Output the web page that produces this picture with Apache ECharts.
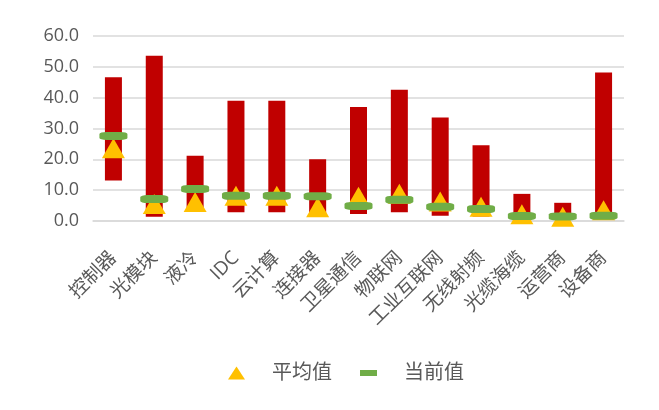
<!DOCTYPE html>
<html>
<head>
<meta charset="utf-8">
<script src="https://cdn.jsdelivr.net/npm/echarts@6/dist/echarts.min.js"></script>
<style>
html,body{margin:0;padding:0;background:#fff;}
#main{width:659px;height:410px;}
</style>
</head>
<body>
<div id="main"></div>
<script>
var categories = ['控制器','光模块','液冷','IDC','云计算','连接器','卫星通信','物联网','工业互联网','无线射频','光缆海缆','运营商','设备商'];
var minVals = [13.1, 1.4, 4.0, 2.8, 2.8, 2.0, 2.3, 2.8, 1.7, 1.5, 0.8, 0.5, 0.8];
var maxVals = [46.6, 53.6, 21.2, 39.0, 39.0, 20.0, 37.0, 42.6, 33.6, 24.6, 8.8, 5.9, 48.2];
var avgVals = [23.6, 5.5, 6.2, 8.2, 8.2, 4.5, 7.9, 8.8, 6.3, 4.6, 2.2, 1.4, 3.5];
var curVals = [27.6, 7.1, 10.4, 8.2, 8.2, 8.0, 4.9, 6.9, 4.6, 3.9, 1.6, 1.5, 1.7];
var yTicks = {min: 0, max: 60, interval: 10};

var rangeVals = maxVals.map(function(v, i){ return +(v - minVals[i]).toFixed(2); });
var textColor = '#595959';
var font = "'Open Sans','Noto Sans CJK SC',sans-serif";

var chart = echarts.init(document.getElementById('main'));
chart.setOption({
  animation: false,
  grid: {left: 93, right: 35, top: 36, bottom: 189},
  legend: {
    bottom: 22,
    left: 223,
    itemWidth: 17,
    itemHeight: 14,
    itemGap: 28,
    textStyle: {color: textColor, fontSize: 20, fontFamily: font, padding: [0, 0, 0, 22]},
    data: [
      {name: '平均值', icon: 'path://M8.5,0L17,13L0,13Z'},
      {name: '当前值', icon: 'path://M0,0L17,0L17,6L0,6Z'}
    ]
  },
  xAxis: {
    type: 'category',
    data: categories,
    axisLine: {show: true, lineStyle: {color: '#D9D9D9', width: 1.5}},
    axisTick: {show: false},
    axisLabel: {rotate: 45, interval: 0, margin: 34, color: textColor, fontSize: 19, fontFamily: font}
  },
  yAxis: {
    type: 'value',
    min: yTicks.min, max: yTicks.max, interval: yTicks.interval,
    axisLine: {show: false},
    axisTick: {show: false},
    splitLine: {lineStyle: {color: '#D9D9D9', width: 1.5}},
    axisLabel: {color: textColor, fontSize: 18, fontFamily: font, margin: 14,
      formatter: function(v){ return v.toFixed(1); }}
  },
  series: [
    {name: 'base', type: 'bar', stack: 'r', data: minVals, barWidth: 17,
      itemStyle: {color: 'transparent'}, silent: true},
    {name: '区间', type: 'bar', stack: 'r', data: rangeVals, barWidth: 17,
      itemStyle: {color: '#C00000'}},
    {name: '平均值', type: 'scatter', data: avgVals, symbol: 'triangle', symbolSize: [23, 20],
      itemStyle: {color: '#FFC000', opacity: 1}, z: 3},
    {name: '当前值', type: 'scatter', data: curVals, symbol: 'roundRect', symbolSize: [28, 8],
      itemStyle: {color: '#70AD47', opacity: 1}, z: 4}
  ]
});
</script>
</body>
</html>
